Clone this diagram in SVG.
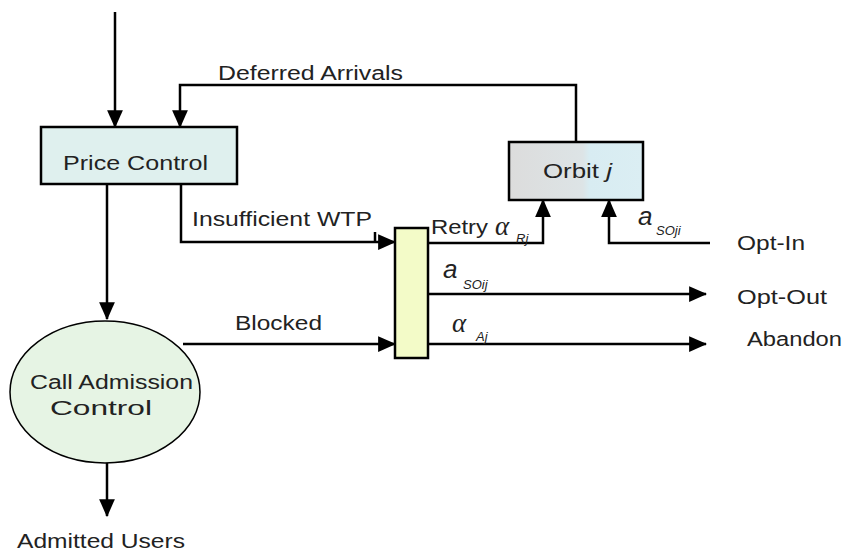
<svg xmlns="http://www.w3.org/2000/svg" width="843" height="554" viewBox="0 0 843 554">
<defs>
<marker id="ah" markerUnits="userSpaceOnUse" markerWidth="18" markerHeight="18" viewBox="0 0 16 16" refX="15" refY="8" orient="auto">
<path d="M0,1 L16,8 L0,15 Z" fill="#000"/>
</marker>
<linearGradient id="orbitg" x1="0" x2="1" y1="0" y2="0">
<stop offset="0" stop-color="#dcdcdc"/><stop offset="0.55" stop-color="#dde4e6"/><stop offset="0.6" stop-color="#d8ecf2"/><stop offset="1" stop-color="#dbeef3"/>
</linearGradient>
</defs>
<style>
.t{font-family:"Liberation Sans",Arial,sans-serif;font-size:20px;fill:#222}
.c{stroke:#000;stroke-width:2.5;fill:none}
.m{font-family:"Liberation Serif","Times New Roman",serif;font-style:italic;font-size:27px;fill:#222}
.ma{font-family:"Liberation Sans",Arial,sans-serif;font-style:italic;font-size:26px;fill:#222}
.s{font-family:"Liberation Sans",Arial,sans-serif;font-style:italic;font-size:13px;fill:#222}
</style>
<rect width="843" height="554" fill="#fff"/>
<g id="connectors">
<path class="c" d="M115,12 V127" marker-end="url(#ah)"/>
<path class="c" d="M576,142 V85 H180 V127" marker-end="url(#ah)"/>
<path class="c" d="M107,184 V319" marker-end="url(#ah)"/>
<path class="c" d="M107,463 V516" marker-end="url(#ah)"/>
<path class="c" d="M181,184 V242 H395" marker-end="url(#ah)"/>
<path class="c" d="M375,232 V242"/>
<path class="c" d="M183,344 H395" marker-end="url(#ah)"/>
<path class="c" d="M428,243 H543 V200" marker-end="url(#ah)"/>
<path class="c" d="M710,243 H609 V200" marker-end="url(#ah)"/>
<path class="c" d="M428,294 H706" marker-end="url(#ah)"/>
<path class="c" d="M428,344 H706" marker-end="url(#ah)"/>
</g>
<g id="price-control">
<rect x="41" y="127" width="196" height="57" fill="#dff0ee" stroke="#000" stroke-width="2.5"/>
<text class="t" x="63" y="170" textLength="145" lengthAdjust="spacingAndGlyphs">Price Control</text>
</g>
<g id="orbit">
<rect x="509" y="142" width="134" height="58" fill="url(#orbitg)" stroke="#000" stroke-width="2.5"/>
<text class="t" x="543" y="178" textLength="69" lengthAdjust="spacingAndGlyphs">Orbit <tspan font-style="italic">j</tspan></text>
</g>
<g id="buffer">
<rect x="395" y="228" width="33" height="130" fill="#f3fbc8" stroke="#000" stroke-width="2.5"/>
</g>
<g id="cac">
<ellipse cx="105" cy="392" rx="95" ry="71" fill="#e6f4e4" stroke="#000" stroke-width="1.5"/>
<text class="t" x="30" y="389" textLength="163" lengthAdjust="spacingAndGlyphs">Call Admission</text>
<text class="t" x="50" y="415" textLength="102" lengthAdjust="spacingAndGlyphs">Control</text>
</g>
<g id="labels">
<text class="t" x="218" y="80" textLength="185" lengthAdjust="spacingAndGlyphs">Deferred Arrivals</text>
<text class="t" x="192" y="226" textLength="180" lengthAdjust="spacingAndGlyphs">Insufficient WTP</text>
<text class="t" x="235" y="330" textLength="87" lengthAdjust="spacingAndGlyphs">Blocked</text>
<text class="t" x="431" y="234" textLength="57" lengthAdjust="spacingAndGlyphs">Retry</text>
<text class="m" x="495" y="235">α</text><text class="s" x="516" y="243">Rj</text>
<text class="ma" x="638" y="225">a</text><text class="s" x="656" y="235">SOji</text>
<text class="ma" x="443" y="278">a</text><text class="s" x="463" y="289">SOij</text>
<text class="m" x="452" y="332">α</text><text class="s" x="476" y="341">Aj</text>
<text class="t" x="737" y="250" textLength="68" lengthAdjust="spacingAndGlyphs">Opt-In</text>
<text class="t" x="737" y="304" textLength="90" lengthAdjust="spacingAndGlyphs">Opt-Out</text>
<text class="t" x="747" y="346" textLength="95" lengthAdjust="spacingAndGlyphs">Abandon</text>
<text class="t" x="17" y="548" textLength="168" lengthAdjust="spacingAndGlyphs">Admitted Users</text>
</g>
</svg>
